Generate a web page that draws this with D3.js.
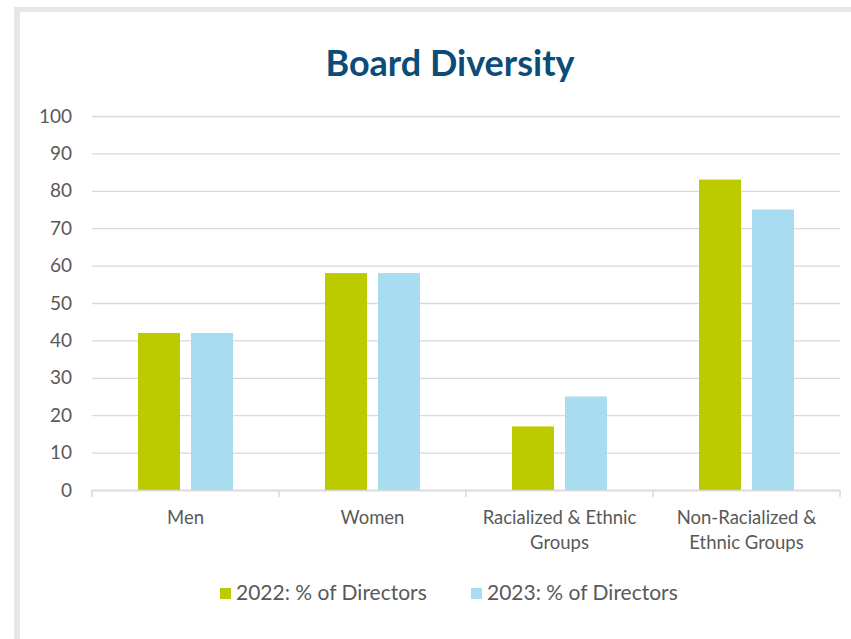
<!DOCTYPE html>
<html>
<head>
<meta charset="UTF-8" />
<script src="https://d3js.org/d3.v7.min.js"></script>
<style>
  body { margin: 0; background: #fff; }
  text { font-family: Lato, "Open Sans", sans-serif; }
</style>
</head>
<body>
<div id="chart"></div>
<script>
  const categories = [
    ['Men'],
    ['Women'],
    ['Racialized & Ethnic', 'Groups'],
    ['Non-Racialized &', 'Ethnic Groups']
  ]
  const seriesNames = ['2022: % of Directors', '2023: % of Directors']
  const values2022 = [42, 58, 17, 83]
  const values2023 = [42, 58, 25, 75]
  const yTicks = [0, 10, 20, 30, 40, 50, 60, 70, 80, 90, 100]
  const colors = ['#bccb00', '#a8dcf0']

  const W = 851, H = 639
  const svg = d3.select('#chart').append('svg')
    .attr('width', W).attr('height', H)

  // grey frame (top and left edges)
  svg.append('rect').attr('x', 14).attr('y', 7).attr('width', W - 14).attr('height', 5).attr('fill', '#e6e6e6')
  svg.append('rect').attr('x', 14).attr('y', 7).attr('width', 6).attr('height', H - 7).attr('fill', '#e6e6e6')

  const margin = { left: 92, right: 11, top: 116, bottom: 149 }
  const width = W - margin.left - margin.right
  const height = H - margin.top - margin.bottom

  const g = svg.append('g').attr('transform', `translate(${margin.left},${margin.top})`)

  const keys = categories.map(c => c.join(' '))
  const x = d3.scaleBand().domain(keys).range([0, width]).paddingInner(0).paddingOuter(0)
  const y = d3.scaleLinear().domain([0, 100]).range([height, 0])

  // gridlines
  g.append('g')
    .call(d3.axisLeft(y).tickValues(yTicks).tickSize(-width).tickFormat(''))
    .call(a => a.select('.domain').remove())
    .call(a => a.selectAll('line').attr('stroke', '#d9d9d9').attr('stroke-width', 1.3))

  // y labels
  g.append('g')
    .call(d3.axisLeft(y).tickValues(yTicks).tickSize(0).tickPadding(20))
    .call(a => a.select('.domain').remove())
    .call(a => a.selectAll('text')
      .attr('fill', '#595959').style('font-size', '19px').style('font-family', 'Lato, sans-serif'))

  // bars
  const barW = 42, gap = 11
  const sub = d3.scaleOrdinal().domain([0, 1]).range([-(barW + gap / 2), gap / 2])
  const series = [values2022, values2023]
  series.forEach((vals, si) => {
    g.selectAll('.bar' + si)
      .data(vals)
      .join('rect')
      .attr('x', (d, i) => x(keys[i]) + x.bandwidth() / 2 + sub(si))
      .attr('y', d => y(d))
      .attr('width', barW)
      .attr('height', d => height - y(d))
      .attr('fill', colors[si])
  })

  // x axis
  const xa = g.append('g').attr('transform', `translate(0,${height})`)
    .call(d3.axisBottom(x).tickSize(0).tickFormat(''))
  xa.select('.domain').attr('stroke', '#d9d9d9').attr('stroke-width', 1.5)
  xa.selectAll('.tick').remove()
  const bounds = d3.range(keys.length + 1).map(i => i * x.bandwidth())
  xa.selectAll('.sep').data(bounds).join('line')
    .attr('x1', d => d).attr('x2', d => d).attr('y1', 0).attr('y2', 7)
    .attr('stroke', '#d9d9d9').attr('stroke-width', 1.5)

  categories.forEach((lines, i) => {
    const t = xa.append('text')
      .attr('x', x(keys[i]) + x.bandwidth() / 2)
      .attr('y', 34)
      .attr('text-anchor', 'middle')
      .attr('fill', '#595959')
      .style('font-size', '18.5px')
    lines.forEach((l, j) => t.append('tspan').attr('x', x(keys[i]) + x.bandwidth() / 2).attr('dy', j ? 25 : 0).text(l))
  })

  // title
  svg.append('text')
    .attr('x', 450).attr('y', 76)
    .attr('text-anchor', 'middle')
    .attr('fill', '#0b4d78')
    .style('font-size', '36px').style('font-weight', 'bold')
    .text('Board Diversity')

  // legend
  const legX = [220, 471]
  const leg = svg.append('g')
  seriesNames.forEach((n, i) => {
    leg.append('rect').attr('x', legX[i]).attr('y', 588).attr('width', 11).attr('height', 11).attr('fill', colors[i])
    leg.append('text').attr('x', legX[i] + 16).attr('y', 600)
      .attr('fill', '#595959').style('font-size', '21px').text(n)
  })
</script>
</body>
</html>
